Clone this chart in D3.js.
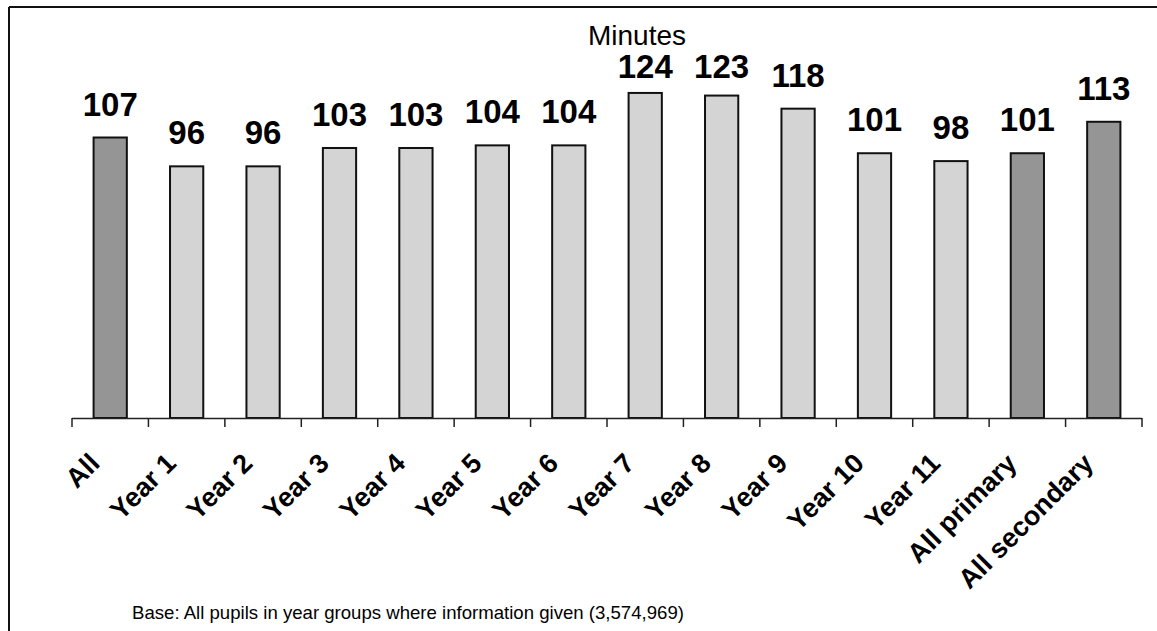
<!DOCTYPE html>
<html><head><meta charset="utf-8">
<script src="https://cdn.jsdelivr.net/npm/d3@7"></script>
<style>body{margin:0;background:#fff;} svg{display:block;font-family:Arial,"Liberation Sans",sans-serif;}</style>
</head><body>
<svg id="c" width="1157" height="631"></svg>
<script>
const categories = ["All","Year 1","Year 2","Year 3","Year 4","Year 5","Year 6","Year 7","Year 8","Year 9","Year 10","Year 11","All primary","All secondary"];
const values = [107,96,96,103,103,104,104,124,123,118,101,98,101,113];
const shade = ["dark","light","light","light","light","light","light","light","light","light","light","light","dark","dark"];
const title = "Minutes";
const note = "Base: All pupils in year groups where information given (3,574,969)";

const svg = d3.select("#c");
// frame (top and left)
svg.append("line").attr("x1",9).attr("x2",1157).attr("y1",7).attr("y2",7).attr("stroke","#111").attr("stroke-width",2);
svg.append("line").attr("x1",9).attr("x2",9).attr("y1",7).attr("y2",631).attr("stroke","#111").attr("stroke-width",2);

const x = d3.scaleBand().domain(categories).range([72,1142]).paddingInner(0.565).paddingOuter(0.2825);
const y = d3.scaleLinear().domain([0,140]).range([418,51]);

const fill = {dark:"#959595", light:"#d4d4d4"};
svg.selectAll("rect.bar").data(categories).join("rect").attr("class","bar")
  .attr("x",d=>x(d)).attr("width",x.bandwidth())
  .attr("y",(d,i)=>y(values[i])).attr("height",(d,i)=>y(0)-y(values[i]))
  .attr("fill",(d,i)=>fill[shade[i]]).attr("stroke","#111").attr("stroke-width",2);

// axis
const ticks = d3.range(categories.length+1).map(i=>72 + i*(1070/categories.length));
svg.append("line").attr("x1",72).attr("x2",1142).attr("y1",418.5).attr("y2",418.5).attr("stroke","#222").attr("stroke-width",1.5);
svg.selectAll("line.tick").data(ticks).join("line").attr("class","tick")
  .attr("x1",d=>d).attr("x2",d=>d).attr("y1",418).attr("y2",427).attr("stroke","#222").attr("stroke-width",1.5);

svg.selectAll("text.xl").data(categories).join("text").attr("class","xl")
  .attr("transform",d=>`translate(${x(d)+x.bandwidth()/2-9},${465}) rotate(-45)`)
  .attr("text-anchor","end").attr("font-size",27).attr("font-weight","bold").attr("fill","#000")
  .text(d=>d);

svg.selectAll("text.vl").data(categories).join("text").attr("class","vl")
  .attr("x",d=>x(d)+x.bandwidth()/2)
  .attr("y",(d,i)=>Math.max(y(values[i])-22,78))
  .attr("text-anchor","middle").attr("font-size",33).attr("font-weight","bold").attr("fill","#000")
  .text((d,i)=>values[i]);

svg.append("text").attr("x",637).attr("y",45).attr("text-anchor","middle").attr("font-size",28).attr("fill","#000").text(title);
svg.append("text").attr("x",132).attr("y",619).attr("font-size",18.6).attr("fill","#000").text(note);
</script>
</body></html>
